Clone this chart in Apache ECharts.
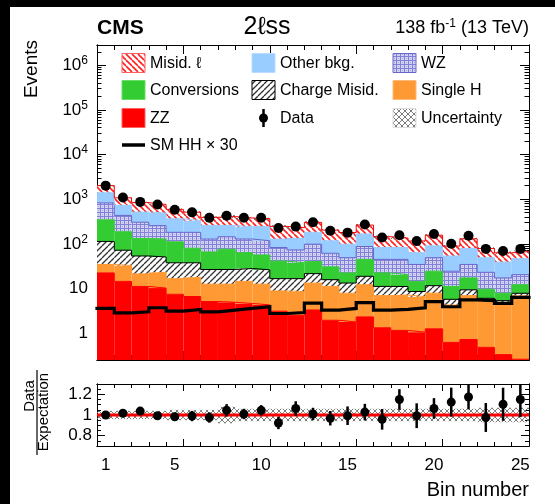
<!DOCTYPE html>
<html><head><meta charset="utf-8">
<script src="https://cdn.jsdelivr.net/npm/echarts@6/dist/echarts.min.js"></script>
<style>html,body{margin:0;padding:0;background:#fff}#c{width:555px;height:504px}</style>
</head><body><div id="c"></div>
<script>
// ---------------- data ----------------
const bins = [1,2,3,4,5,6,7,8,9,10,11,12,13,14,15,16,17,18,19,20,21,22,23,24,25];
const zz          = [22.3,14.4,11.1,10.2,7.4,6.6,5.1,4.9,4.6,4.3,3.1,2.5,3.3,1.94,1.78,2.31,1.32,1.15,1.05,1.25,0.62,0.72,0.48,0.33,0.26];
const singleH     = [12.2,18.3,10.1,12.9,9.2,11.2,7.4,7.6,9.8,8.2,5.7,6.0,9.9,9.2,6.05,9.8,5.6,6.0,5.5,6.6,3.63,6.2,5.05,3.92,6.55];
const chargeMisid = [78.5,39.1,32.2,27.6,21,19.8,14.1,14.1,13.6,13.6,7.8,8.1,8.3,4.6,5.4,6.6,4.2,3.9,2.0,3.7,1.47,2.4,0.5,1.09,1.0];
const conversions = [232,115,78.6,77.3,73.4,42.1,39.2,49.1,35.5,30.1,24.5,21,19.6,14.8,9.1,26.1,11.2,9.3,5.85,12.8,5.4,7.9,3.6,2.5,4.3];
const wzVals      = [481,246,173,128,70,101,62,68.3,64.5,60.8,41.5,35.5,57.2,30.9,26.6,42.2,22.5,24.4,20.1,24.6,13.2,17.3,13.4,9.4,8.3];
const otherBkg    = [567,298,210,233,183,152,128,112,115,126,45.4,61.9,82.7,55.6,49.4,79,37.8,37.8,29,41.2,29.1,43.8,25.8,21.8,26];
const misidLep    = [617,342,322,273,228,179,136,152,136,123,118,94,121,86,80.7,97,62,52,52.5,66,35.6,51.2,30,23.8,20.6];
const dataObs     = [2010,1091,869,757,582,507,383,426,383,383,227,243,305,197,178,270,139,155,115,166,100,152,77,69,77];
const smHH30      = [3.57,2.85,3.0,3.70,3.11,3.39,3.0,3.27,3.57,3.90,2.75,2.9,4.7,3.27,3.57,4.81,3.27,3.39,3.70,5.07,3.90,5.53,5.34,4.64,6.35];
const ratioVals   = [1.0,1.017,1.038,0.993,0.983,0.99,0.976,1.045,1.01,1.045,0.923,1.063,1.01,0.969,0.993,1.028,0.958,1.15,0.993,1.063,1.125,1.174,0.976,1.104,1.15];
const ratioErr    = [0.02,0.03,0.03,0.03,0.04,0.05,0.05,0.06,0.05,0.05,0.06,0.07,0.06,0.07,0.09,0.08,0.10,0.10,0.12,0.10,0.14,0.12,0.14,0.16,0.17];
const uncRel      = [0.04,0.04,0.04,0.04,0.05,0.05,0.05,0.08,0.06,0.06,0.06,0.06,0.06,0.06,0.06,0.06,0.06,0.06,0.06,0.06,0.06,0.06,0.07,0.07,0.07];
const xLabelVals  = [1,5,10,15,20,25];
const xTickLong   = [5.5,10.5,15.5,20.5];
const xTickShort  = [1.5,2.5,3.5,4.5,6.5,7.5,8.5,9.5,11.5,12.5,13.5,14.5,16.5,17.5,18.5,19.5,21.5,22.5,23.5,24.5];
const yMajorVals  = [1,10,100,1000,10000,100000,1000000];
const ratioLabelVals = [0.8,1,1.2];
const ratioMinor  = [0.75,0.85,0.9,0.95,1.05,1.1,1.15,1.25];

// ---------------- styling ----------------
const FONT = '"Liberation Sans", Arial, Helvetica, sans-serif';
const Y_MIN = 0.25, Y_MAX = 2.84e6;
const R_MIN = 0.7, R_MAX = 1.3;
const G1 = {left: 97, top: 45, width: 432, height: 315};
const G2 = {left: 97, top: 384, width: 432, height: 62};

function pattern(w, h, bg, draw) {
  const c = document.createElement('canvas'); c.width = w; c.height = h;
  const ctx = c.getContext('2d');
  if (bg) { ctx.fillStyle = bg; ctx.fillRect(0, 0, w, h); }
  draw(ctx);
  return {image: c, repeat: 'repeat'};
}
const hatchRed = pattern(6, 6, '#ffffff', ctx => {
  ctx.strokeStyle = '#ff2020'; ctx.lineWidth = 1.6;
  for (const o of [-6, 0, 6]) { ctx.beginPath(); ctx.moveTo(o, 0); ctx.lineTo(o + 6, 6); ctx.stroke(); }
});
const hatchBlack = pattern(6, 6, '#ffffff', ctx => {
  ctx.strokeStyle = '#333'; ctx.lineWidth = 1.3;
  for (const o of [-6, 0, 6]) { ctx.beginPath(); ctx.moveTo(o, 6); ctx.lineTo(o + 6, 0); ctx.stroke(); }
});
const wzPat = pattern(4, 4, '#d4d4f2', ctx => {
  ctx.fillStyle = '#8080d6';
  ctx.fillRect(0, 0, 4, 1); ctx.fillRect(0, 0, 1, 4);
  ctx.fillStyle = '#a8a8e4'; ctx.fillRect(2, 2, 1, 1);
});
const uncPat = pattern(6, 6, null, ctx => {
  ctx.strokeStyle = 'rgba(110,110,110,0.9)'; ctx.lineWidth = 1;
  for (const o of [-6, 0, 6]) {
    ctx.beginPath(); ctx.moveTo(o, 0); ctx.lineTo(o + 6, 6); ctx.stroke();
    ctx.beginPath(); ctx.moveTo(o, 6); ctx.lineTo(o + 6, 0); ctx.stroke();
  }
});

const layers = [
  {name: 'ZZ', vals: zz, fill: '#ff0000', line: '#ff0000'},
  {name: 'Single H', vals: singleH, fill: '#ff9933', line: '#ff9933'},
  {name: 'Charge Misid.', vals: chargeMisid, fill: hatchBlack, line: '#000000'},
  {name: 'Conversions', vals: conversions, fill: '#33cc33', line: '#33cc33'},
  {name: 'WZ', vals: wzVals, fill: wzPat, line: '#6666cc'},
  {name: 'Other bkg.', vals: otherBkg, fill: '#99ccff', line: '#99ccff'},
  {name: 'Misid. \u2113', vals: misidLep, fill: hatchRed, line: '#ff0000'}
];
let run = bins.map(() => 0);
layers.forEach(l => {
  l.lo = run.slice();
  run = run.map((v, i) => v + l.vals[i]);
  l.hi = run.slice();
});
const total = run;

function binRect(fill) {
  return (p, api) => {
    const x = api.value(0);
    const a = api.coord([x - 0.5, api.value(2)]);
    const b = api.coord([x + 0.5, api.value(1)]);
    return {type: 'rect', shape: {x: a[0], y: a[1], width: b[0] - a[0], height: b[1] - a[1]}, style: {fill: fill, stroke: null}};
  };
}
const series = [];
layers.forEach(l => {
  series.push({type: 'custom', xAxisIndex: 0, yAxisIndex: 0, clip: true, silent: true, z: 2,
    data: bins.map((b, i) => [b, Math.max(l.lo[i], Y_MIN), l.hi[i]]), renderItem: binRect(l.fill)});
});
series.push({type: 'custom', xAxisIndex: 0, yAxisIndex: 0, clip: true, silent: true, z: 3,
  data: bins.map((b, i) => [b, total[i] * (1 - uncRel[i]), total[i] * (1 + uncRel[i])]), renderItem: binRect(uncPat)});
function stepData(vals) {
  const d = bins.map((b, i) => [b - 0.5, vals[i]]);
  d.push([bins[bins.length - 1] + 0.5, vals[vals.length - 1]]);
  return d;
}
layers.forEach(l => {
  series.push({type: 'line', xAxisIndex: 0, yAxisIndex: 0, step: 'end', symbol: 'none', silent: true, z: 4,
    data: stepData(l.hi), lineStyle: {color: l.line, width: 1}});
});
series.push({type: 'line', xAxisIndex: 0, yAxisIndex: 0, step: 'end', symbol: 'none', silent: true, z: 5,
  data: stepData(smHH30), lineStyle: {color: '#000', width: 3.2, cap: 'square', join: 'miter'}});
series.push({type: 'scatter', xAxisIndex: 0, yAxisIndex: 0, symbol: 'circle', symbolSize: 10, silent: true, z: 6,
  itemStyle: {color: '#000', opacity: 1}, data: bins.map((b, i) => [b, dataObs[i]])});

// ratio panel (x axis index 4, y axis index 4)
series.push({type: 'custom', xAxisIndex: 4, yAxisIndex: 4, clip: true, silent: true, z: 2,
  data: bins.map((b, i) => [b, 1 - uncRel[i], 1 + uncRel[i]]), renderItem: binRect(uncPat)});
series.push({type: 'line', xAxisIndex: 4, yAxisIndex: 4, symbol: 'none', silent: true, z: 3,
  data: [[0.5, 1], [25.5, 1]], lineStyle: {color: '#ff0000', width: 3.2}});
series.push({type: 'custom', xAxisIndex: 4, yAxisIndex: 4, clip: true, silent: true, z: 4,
  data: bins.map((b, i) => [b, ratioVals[i] - ratioErr[i], ratioVals[i] + ratioErr[i]]),
  renderItem: (p, api) => {
    const a = api.coord([api.value(0), api.value(1)]);
    const b = api.coord([api.value(0), api.value(2)]);
    return {type: 'line', shape: {x1: a[0], y1: a[1], x2: b[0], y2: b[1]}, style: {stroke: '#000', lineWidth: 2.5}};
  }
});
series.push({type: 'scatter', xAxisIndex: 4, yAxisIndex: 4, symbol: 'circle', symbolSize: 9, silent: true, z: 5,
  itemStyle: {color: '#000', opacity: 1}, data: bins.map((b, i) => [b, ratioVals[i]])});

// ---------------- axes ----------------
const minorLog = [];
for (let e = -1; e <= 6; e++) for (let k = 2; k <= 9; k++) {
  const v = k * Math.pow(10, e);
  if (v > Y_MIN && v < Y_MAX) minorLog.push(v);
}
const line = {show: true, lineStyle: {color: '#000', width: 1}};
function xAx(grid, pos, labels, tickVals, len) {
  return {type: 'value', gridIndex: grid, position: pos, min: 0.5, max: 25.5,
    axisLine: line, splitLine: {show: false},
    axisTick: {show: true, inside: true, length: len, customValues: tickVals, lineStyle: {color: '#000'}},
    axisLabel: labels ? {show: true, customValues: xLabelVals, fontFamily: FONT, fontSize: 17, color: '#000', margin: 11}
                      : {show: false}};
}
function yLog(pos, tickVals, len, labels) {
  return {type: 'log', gridIndex: 0, position: pos, min: Y_MIN, max: Y_MAX, logBase: 10,
    axisLine: line, splitLine: {show: false},
    axisTick: {show: true, inside: true, length: len, customValues: tickVals, lineStyle: {color: '#000'}},
    axisLabel: labels ? {show: true, customValues: yMajorVals, fontFamily: FONT, fontSize: 17, color: '#000', margin: 9,
      formatter: v => { const e = Math.round(Math.log10(v)); return e === 0 ? '1' : e === 1 ? '10' : '10{s|' + e + '}'; },
      rich: {s: {fontFamily: FONT, fontSize: 12, color: '#000', verticalAlign: 'top', padding: [0, 0, 9, 0]}}} : {show: false}};
}
function yRatio(pos, tickVals, len, labels) {
  return {type: 'value', gridIndex: 1, position: pos, min: R_MIN, max: R_MAX,
    axisLine: line, splitLine: {show: false},
    axisTick: {show: true, inside: true, length: len, customValues: tickVals, lineStyle: {color: '#000'}},
    axisLabel: labels ? {show: true, customValues: ratioLabelVals, fontFamily: FONT, fontSize: 17, color: '#000', margin: 5,
      formatter: v => (Math.abs(v - 1) < 1e-9 ? '1' : v.toFixed(1))} : {show: false}};
}

const option = {
  backgroundColor: '#ffffff',
  animation: false,
  grid: [Object.assign({containLabel: false}, G1), Object.assign({containLabel: false}, G2)],
  xAxis: [
    xAx(0, 'bottom', false, xTickShort, 5),
    xAx(0, 'bottom', false, xTickLong, 9),
    xAx(0, 'top', false, xTickShort, 5),
    xAx(0, 'top', false, xTickLong, 9),
    xAx(1, 'bottom', true, xTickShort, 4),
    xAx(1, 'bottom', false, xTickLong, 7),
    xAx(1, 'top', false, xTickShort, 4),
    xAx(1, 'top', false, xTickLong, 7)
  ],
  yAxis: [
    yLog('left', yMajorVals, 9, true),
    yLog('left', minorLog, 4.5, false),
    yLog('right', yMajorVals, 9, false),
    yLog('right', minorLog, 4.5, false),
    yRatio('left', ratioLabelVals, 8, true),
    yRatio('left', ratioMinor, 4, false),
    yRatio('right', ratioLabelVals, 8, false),
    yRatio('right', ratioMinor, 4, false)
  ],
  series: series,
  graphic: []
};

const G = option.graphic;
G.push({type: 'rect', shape: {x: 0, y: 0, width: 10, height: 504}, style: {fill: '#000'}, z: 100});
G.push({type: 'rect', shape: {x: 0, y: 0, width: 555, height: 7}, style: {fill: '#000'}, z: 100});
G.push({type: 'text', x: 97, y: 28, style: {text: 'CMS', font: 'bold 21px ' + FONT, fill: '#000', textVerticalAlign: 'middle'}});
G.push({type: 'text', x: 267, y: 27, style: {text: '2\u2113ss', font: '25px ' + FONT, fill: '#000', textAlign: 'center', textVerticalAlign: 'middle'}});
G.push({type: 'text', x: 529, y: 28, style: {
  text: '138 fb{s|-1} (13 TeV)', font: '18px ' + FONT, fill: '#000', textAlign: 'right', textVerticalAlign: 'middle',
  rich: {s: {fontSize: 12, fontFamily: FONT, verticalAlign: 'top', padding: [0, 0, 8, 0]}}}});
G.push({type: 'text', x: 32, y: 40, rotation: Math.PI / 2, style: {text: 'Events', font: '19px ' + FONT, fill: '#000', textAlign: 'right', textVerticalAlign: 'middle'}});
G.push({type: 'text', x: 529, y: 490, style: {text: 'Bin number', font: '20px ' + FONT, fill: '#000', textAlign: 'right', textVerticalAlign: 'middle'}});
G.push({type: 'text', x: 30, y: 396, rotation: Math.PI / 2, style: {text: 'Data', font: '15px ' + FONT, fill: '#000', textAlign: 'center', textVerticalAlign: 'middle'}});
G.push({type: 'line', shape: {x1: 37, y1: 370, x2: 37, y2: 455}, style: {stroke: '#000', lineWidth: 1.2}});
G.push({type: 'text', x: 44, y: 412, rotation: Math.PI / 2, style: {text: 'Expectation', font: '15px ' + FONT, fill: '#000', textAlign: 'center', textVerticalAlign: 'middle'}});

const legCols = [122, 252, 393], legRows = [63, 90, 118, 145];
const iconW = 23, iconH = 19;
function legText(c, r, label) {
  G.push({type: 'text', x: legCols[c] + iconW + 5, y: legRows[r] + 1, z: 50,
    style: {text: label, font: '16px ' + FONT, fill: '#000', textVerticalAlign: 'middle'}});
}
function legBox(c, r, fill, stroke, label) {
  G.push({type: 'rect', shape: {x: legCols[c], y: legRows[r] - iconH / 2, width: iconW, height: iconH},
    style: {fill: fill, stroke: stroke, lineWidth: 1}, z: 50});
  legText(c, r, label);
}
legBox(0, 0, hatchRed, '#ff6060', 'Misid. \u2113');
legBox(1, 0, '#99ccff', '#bbddff', 'Other bkg.');
legBox(2, 0, wzPat, '#6666cc', 'WZ');
legBox(0, 1, '#33cc33', '#66dd66', 'Conversions');
legBox(1, 1, hatchBlack, '#000', 'Charge Misid.');
legBox(2, 1, '#ff9933', '#ffbb77', 'Single H');
legBox(0, 2, '#ff0000', '#ff6060', 'ZZ');
legBox(2, 2, uncPat, '#dddddd', 'Uncertainty');
G.push({type: 'line', shape: {x1: legCols[1] + 11.5, y1: legRows[2] - 9, x2: legCols[1] + 11.5, y2: legRows[2] + 9},
  style: {stroke: '#000', lineWidth: 2.5}, z: 50});
G.push({type: 'circle', shape: {cx: legCols[1] + 11.5, cy: legRows[2], r: 4.5}, style: {fill: '#000'}, z: 50});
legText(1, 2, 'Data');
G.push({type: 'line', shape: {x1: legCols[0], y1: legRows[3], x2: legCols[0] + iconW, y2: legRows[3]},
  style: {stroke: '#000', lineWidth: 3.5}, z: 50});
legText(0, 3, 'SM HH \u00d7 30');

const chart = echarts.init(document.getElementById('c'), null, {renderer: 'canvas'});
chart.setOption(option);
</script>
</body></html>
